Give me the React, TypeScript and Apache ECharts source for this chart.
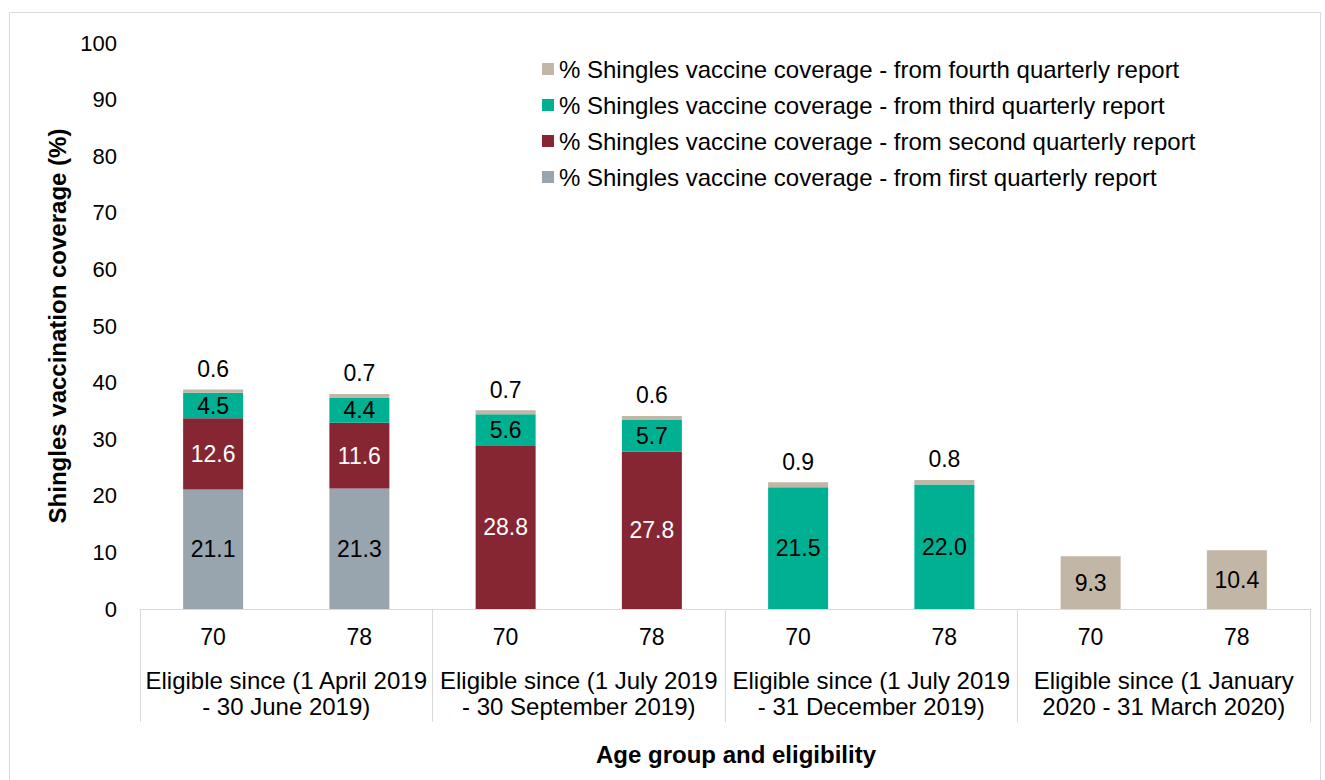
import React, { useEffect, useRef } from "react";
import * as echarts from "echarts";

const ageGroups = ["70", "78", "70", "78", "70", "78", "70", "78"];
const eligibility = [
  "Eligible since (1 April 2019\n- 30 June 2019)",
  "Eligible since (1 July 2019\n- 30 September 2019)",
  "Eligible since (1 July 2019\n- 31 December 2019)",
  "Eligible since (1 January\n2020 - 31 March 2020)",
];
const firstReport = [21.1, 21.3, null, null, null, null, null, null];
const secondReport = [12.6, 11.6, 28.8, 27.8, null, null, null, null];
const thirdReport = [4.5, 4.4, 5.6, 5.7, 21.5, 22.0, null, null];
const fourthReport = [0.6, 0.7, 0.7, 0.6, 0.9, 0.8, 9.3, 10.4];
const fourthInside = [false, false, false, false, false, false, true, true];

const names = [
  "% Shingles vaccine coverage - from first quarterly report",
  "% Shingles vaccine coverage - from second quarterly report",
  "% Shingles vaccine coverage - from third quarterly report",
  "% Shingles vaccine coverage - from fourth quarterly report",
];

const FONT = "'Liberation Sans', Arial, sans-serif";

export default function App() {
  const ref = useRef<HTMLDivElement>(null);
  useEffect(() => {
    if (!ref.current) return;
    const chart = echarts.init(ref.current, null, { renderer: "svg" });
    const baseLabel = {
      show: true,
      position: "inside",
      fontSize: 23,
      fontFamily: FONT,
      color: "#000",
      formatter: (p: any) => (p.value == null ? "" : Number(p.value).toFixed(1)),
    };
    const mk = (name: string, data: any[], color: string, labelColor: string) => ({
      name,
      type: "bar",
      stack: "total",
      barWidth: 60,
      data,
      itemStyle: { color },
      label: { ...baseLabel, color: labelColor },
    });
    chart.setOption({
      animation: false,
      textStyle: { fontFamily: FONT },
      graphic: [
        {
          type: "rect",
          shape: { x: 9.5, y: 12.5, width: 1311, height: 800 },
          style: { fill: "none", stroke: "#D9D9D9", lineWidth: 1 },
          silent: true,
        },
        {
          type: "text",
          x: 736,
          y: 754,
          style: {
            text: "Age group and eligibility",
            fontSize: 24,
            fontWeight: "bold",
            fontFamily: FONT,
            fill: "#000",
            align: "center",
            verticalAlign: "middle",
          },
        },
      ],
      legend: {
        orient: "vertical",
        left: 537,
        top: 52,
        itemWidth: 12,
        itemHeight: 12,
        itemGap: 12,
        icon: "rect",
        data: [names[3], names[2], names[1], names[0]],
        textStyle: { fontSize: 24, fontFamily: FONT, color: "#000" },
      },
      grid: { left: 140, right: 15, top: 43, bottom: 171 },
      xAxis: [
        {
          type: "category",
          data: ageGroups,
          position: "bottom",
          axisLine: { show: true, lineStyle: { color: "#D9D9D9", width: 1 } },
          axisTick: { show: false },
          axisLabel: { fontSize: 23, color: "#000", margin: 16, fontFamily: FONT },
        },
        {
          type: "category",
          data: eligibility,
          position: "bottom",
          axisLine: { show: false },
          axisTick: { show: true, length: 113, lineStyle: { color: "#D9D9D9", width: 1 } },
          axisLabel: {
            fontSize: 24,
            lineHeight: 26,
            color: "#000",
            margin: 58,
            fontFamily: FONT,
            interval: 0,
          },
        },
      ],
      yAxis: {
        type: "value",
        min: 0,
        max: 100,
        interval: 10,
        name: "Shingles vaccination coverage (%)",
        nameLocation: "middle",
        nameGap: 68,
        nameTextStyle: { fontSize: 24, fontWeight: "bold", color: "#000", fontFamily: FONT },
        axisLine: { show: false },
        axisTick: { show: false },
        splitLine: { show: false },
        axisLabel: { fontSize: 22, color: "#000", margin: 23, fontFamily: FONT },
      },
      series: [
        mk(names[0], firstReport, "#98A4AE", "#000"),
        mk(names[1], secondReport, "#862633", "#fff"),
        mk(names[2], thirdReport, "#00B092", "#000"),
        {
          ...mk(names[3], [], "#C2B6A6", "#000"),
          data: fourthReport.map((v, i) => ({
            value: v,
            label: fourthInside[i]
              ? { position: "inside" }
              : { position: "top", distance: 9 },
          })),
        },
      ],
    });
    return () => chart.dispose();
  }, []);
  return (
    <div
      ref={ref}
      style={{ position: "absolute", left: 0, top: 0, width: 1325, height: 780, background: "#fff" }}
    />
  );
}
